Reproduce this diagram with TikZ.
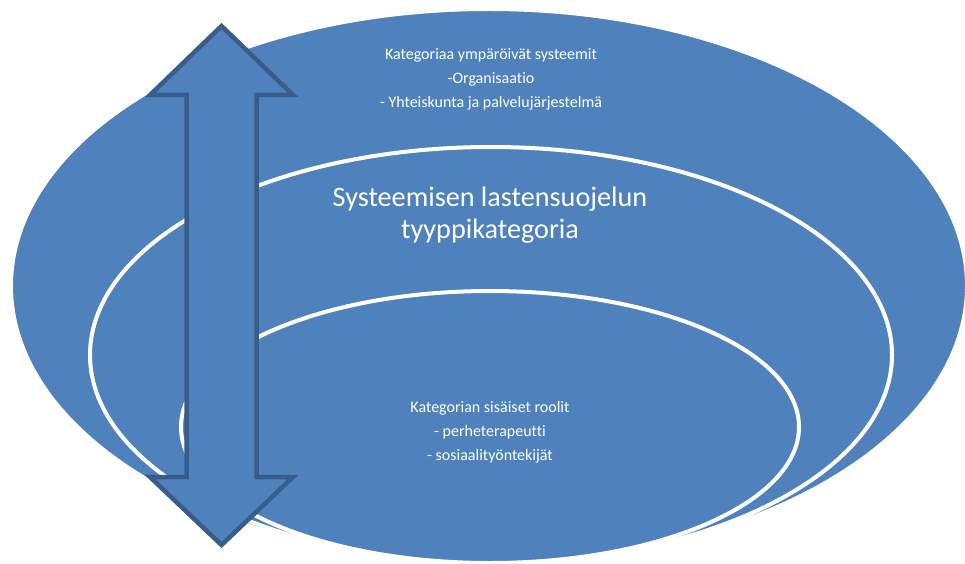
\documentclass[tikz,border=0pt]{standalone}
\usepackage{fontspec}
\setmainfont[RawFeature={-liga}]{Carlito}
\definecolor{ofblue}{HTML}{4F81BD}
\definecolor{ofdark}{HTML}{385D8A}
\begin{document}
\begin{tikzpicture}[x=1pt,y=-1pt,
  ring/.style={fill=ofblue,draw=white,line width=4pt},
  arrowshape/.style={fill=ofblue,draw=ofdark,line width=4.5pt,line join=miter},
  smalltext/.style={text=white,align=center,font=\fontsize{16}{24}\selectfont},
  bigtext/.style={text=white,align=center,font=\fontsize{28.2}{32}\selectfont}]
\useasboundingbox (0,0) rectangle (965,564);
% stacked ellipses, sharing the bottom point
\path[ring] (489,286) ellipse [x radius=478, y radius=277];
\path[ring] (491,355) ellipse [x radius=401, y radius=208];
\path[ring] (490,427) ellipse [x radius=309, y radius=136];
% double arrow
\coordinate (tipT) at (221.5,26);
\coordinate (tipB) at (221.5,545);
\draw[arrowshape] (tipT) -- (293,95) -- (256.5,95) -- (256.5,477) -- (293,477)
  -- (tipB) -- (150,477) -- (186.5,477) -- (186.5,95) -- (150,95) -- cycle;
% texts
\node[smalltext] (outer) at (491,79) {Kategoriaa ympäröivät systeemit\\-Organisaatio\\- Yhteiskunta ja palvelujärjestelmä};
\node[bigtext] (title) at (490,215) {Systeemisen lastensuojelun\\tyyppikategoria};
\node[smalltext] (inner) at (490,432) {Kategorian sisäiset roolit\\- perheterapeutti\\- sosiaalityöntekijät};
\end{tikzpicture}
\end{document}
